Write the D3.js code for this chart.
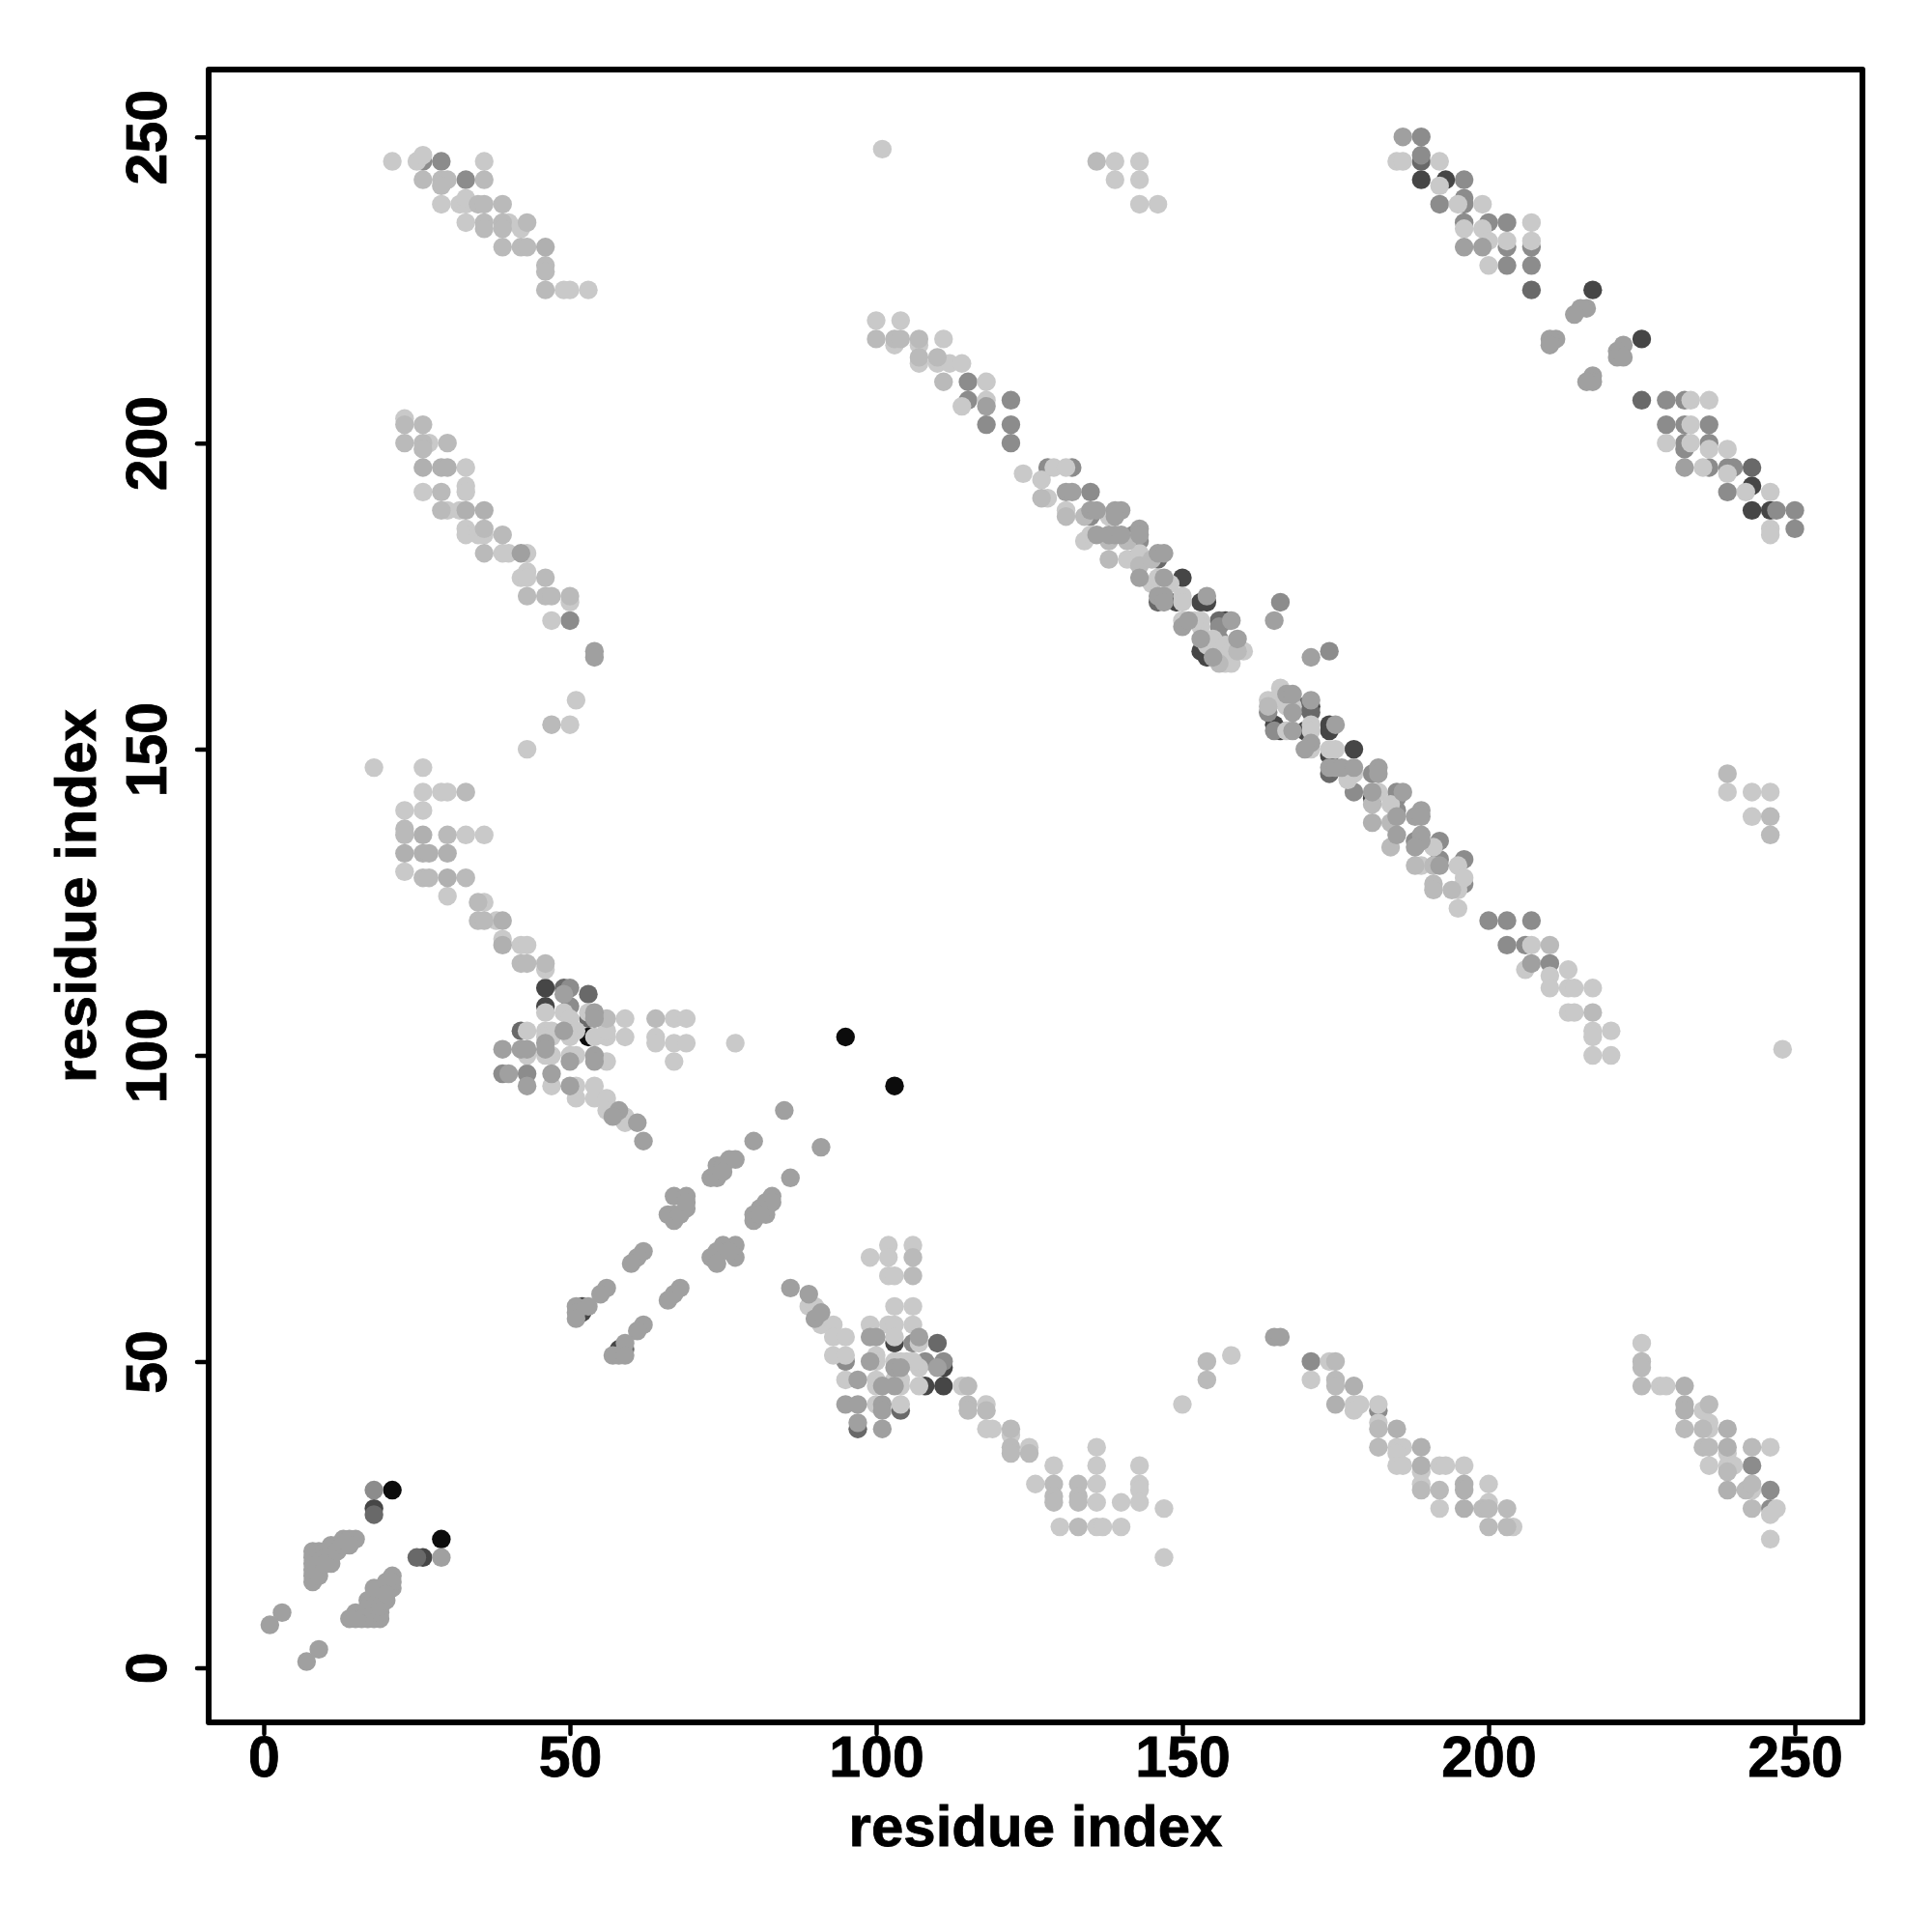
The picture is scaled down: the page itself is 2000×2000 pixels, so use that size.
<!DOCTYPE html>
<html><head><meta charset="utf-8">
<style>html,body{margin:0;padding:0;background:#fff}svg{display:block}</style>
<script src="https://cdn.jsdelivr.net/npm/d3@7"></script></head><body><div id="c"></div>
<script>
// contact strength levels (higher = darker)
const L=54,B=69,A=79,M=95,D=115,E=150,K=185,X=243;
const xTicks=[0,50,100,150,200,250];
const yTicks=[0,50,100,150,200,250];
const axisTitle="residue index";
const layerOrder=[X,K,E,D,L,B,A,M];

const bandTopLeft=[[21,246,L],[25,246,L],[26,246,D],[26,247,L],[29,246,D],[36,246,L],[26,243,B],[29,243,B],[30,243,B],[33,243,D],[36,243,B],[29,242,B],[29,239,L],[32,239,L],[33,239,L],[33,240,L],[35,239,B],[36,239,B],[39,239,B],[33,236,L],[36,236,B],[39,236,B],[40,236,L],[43,236,B],[36,235,B],[39,235,B],[42,235,L],[39,232,B],[42,232,B],[43,232,B],[46,232,A],[46,229,B],[46,228,B],[46,225,B],[49,225,L],[50,225,L],[53,225,L]];
const bandMidLeft=[[23,204,L],[23,203,B],[26,203,B],[23,200,B],[26,200,B],[27,200,L],[30,200,B],[26,199,B],[26,196,A],[29,196,A],[30,196,A],[33,196,L],[33,193,L],[26,192,L],[29,192,B],[33,192,L],[29,189,B],[30,189,L],[32,189,L],[33,189,A],[36,189,A],[33,186,L],[36,186,B],[33,185,L],[35,185,L],[36,185,L],[39,185,B],[36,182,B],[39,182,L],[40,182,L],[42,182,M],[43,182,L],[43,179,L],[42,178,L],[43,178,L],[46,178,B],[43,175,B],[46,175,B],[47,175,B],[50,175,B],[50,174,L],[47,171,L],[50,171,D],[54,166,M],[54,165,M],[51,158,L],[47,154,B],[50,154,L],[43,150,L]];
const bandLowLeft=[[18,147,L],[26,147,L],[26,143,L],[29,143,L],[30,143,L],[33,143,B],[23,140,L],[26,140,L],[23,137,B],[23,136,B],[26,136,A],[30,136,B],[33,136,L],[36,136,L],[23,133,A],[26,133,A],[27,133,A],[30,133,A],[23,130,L],[26,129,B],[27,129,B],[30,129,A],[33,129,B],[30,126,L],[35,125,B],[36,125,L],[35,122,B],[36,122,B],[38,122,L],[39,122,A],[39,119,L],[39,118,A],[42,118,L],[43,118,L],[42,115,B],[43,115,B],[46,115,B],[46,114,L]];
const clusterFifty=[[46,111,K],[49,111,E],[50,111,D],[49,110,M],[53,110,E],[46,108,K],[46,107,L],[49,107,L],[50,108,D],[50,106,L],[53,106,E],[53,107,L],[54,107,M],[54,106,M],[56,106,B],[59,106,L],[64,106,B],[67,106,L],[69,106,L],[42,104,E],[43,104,L],[46,104,L],[47,104,L],[49,104,M],[50,104,L],[51,104,L],[53,103,X],[54,103,L],[56,103,L],[56,104,L],[59,103,L],[64,103,L],[64,102,L],[67,102,L],[69,102,L],[77,102,L],[46,103,L],[46,102,M],[47,103,L],[50,103,L],[39,101,M],[42,101,M],[43,101,M],[43,100,L],[46,101,M],[46,100,L],[47,100,L],[50,100,L],[51,100,L],[50,99,M],[54,100,M],[54,99,M],[56,99,L],[67,99,L],[39,97,D],[40,97,M],[43,97,D],[47,97,M],[43,95,M],[47,95,L],[50,95,M],[51,95,L],[54,95,L],[51,93,L],[54,93,L],[56,93,L],[56,91,L],[58,91,M],[57,90,M],[59,90,L],[59,89,L],[61,89,M],[62,86,M]];
const diagonalCross=[[95,103,X],[103,95,X],[85,91,M],[80,86,M],[91,85,M],[86,80,M],[73,80,M],[74,80,M],[74,82,M],[75,82,M],[76,83,M],[77,83,M],[75,81,M],[67,77,M],[69,77,M],[69,75,M],[66,74,M],[67,74,M],[67,73,M],[68,74,M],[69,76,M],[83,77,M],[82,76,M],[83,76,M],[81,75,M],[82,74,M],[80,74,M],[80,73,M],[81,74,M],[77,69,M],[75,69,M],[74,68,M],[73,67,M],[74,66,M],[77,67,M],[76,68,M],[62,68,M],[61,67,M],[60,66,M],[68,62,M],[67,61,M],[66,60,M],[56,62,M],[55,61,M],[51,59,M],[51,58,M],[51,57,M],[52,59,K],[52,58,K],[53,59,M],[62,56,M],[61,55,M],[59,53,M],[59,52,E],[58,52,K],[57,51,M],[58,51,M],[59,51,M]];
const clusterHundred=[[99,67,L],[102,69,L],[102,67,L],[106,69,L],[106,67,B],[102,64,L],[103,64,L],[106,64,B],[103,59,L],[106,59,L],[99,56,L],[102,56,L],[103,56,L],[106,56,L],[99,54,M],[100,54,M],[103,54,L],[103,53,K],[106,53,D],[107,54,M],[107,53,L],[110,53,E],[100,51,L],[99,50,M],[100,50,L],[103,50,L],[104,50,L],[105,50,L],[107,49,L],[106,50,L],[108,50,D],[110,49,M],[111,50,D],[111,49,K],[103,49,M],[104,49,M],[93,51,L],[95,51,L],[95,50,D],[95,47,L],[97,47,M],[100,47,L],[100,46,L],[101,46,M],[103,46,M],[104,47,L],[104,46,L],[103,47,L],[107,46,L],[108,46,K],[111,46,K],[114,46,L],[115,46,B],[95,43,M],[97,43,M],[100,43,L],[101,43,M],[101,42,M],[104,43,L],[104,42,E],[97,40,M],[97,39,E],[101,39,M],[86,62,M],[89,61,M],[89,59,L],[90,59,L],[90,57,M],[91,58,M],[91,56,L],[93,56,L],[93,54,L],[95,54,L]];
const bandLowMid=[[115,43,B],[115,42,B],[118,43,L],[118,42,B],[118,39,L],[119,39,L],[122,39,B],[122,38,L],[122,36,B],[122,35,B],[125,36,L],[125,35,B],[129,33,L],[126,30,L],[129,30,B],[133,30,B],[129,28,B],[133,28,B],[129,27,B],[133,27,B],[143,33,L],[136,36,L],[136,33,L],[136,30,L],[143,30,L],[143,29,L],[136,27,L],[140,27,L],[143,27,L],[147,26,L],[130,23,L],[133,23,B],[136,23,L],[137,23,L],[140,23,L],[147,18,L],[150,43,L],[154,50,B],[154,47,B],[158,51,L],[165,54,M],[166,54,M]];
const bandLowRight=[[171,50,D],[171,47,L],[174,50,L],[175,50,B],[175,47,B],[175,46,B],[175,43,A],[178,46,A],[178,43,L],[179,43,L],[178,42,L],[182,43,L],[182,42,D],[182,40,L],[182,39,B],[185,39,A],[182,36,B],[185,36,L],[186,36,L],[189,36,A],[185,35,L],[185,33,L],[186,33,L],[189,33,A],[189,32,L],[192,33,L],[193,33,L],[196,33,L],[189,30,L],[189,29,B],[192,29,B],[196,30,A],[196,29,A],[200,30,L],[192,26,L],[196,26,A],[200,27,L],[199,26,B],[200,26,B],[203,26,B],[200,23,B],[203,23,B],[204,23,L]];
const bandLowFar=[[225,53,L],[225,50,B],[225,49,B],[225,46,B],[228,46,L],[229,46,L],[232,46,A],[232,43,A],[232,42,A],[236,43,B],[235,42,L],[232,39,B],[235,39,B],[236,40,L],[236,39,L],[239,39,A],[235,36,B],[236,36,B],[239,36,A],[243,36,B],[246,36,L],[239,35,L],[236,33,L],[239,33,L],[239,32,B],[240,33,L],[243,33,D],[239,29,A],[242,29,B],[243,30,B],[243,29,L],[246,29,D],[243,26,B],[246,26,D],[247,26,L],[246,25,L],[246,21,L]];
const clusterOrigin=[[18,29,D],[21,29,X],[18,26,K],[18,25,E],[29,21,X],[29,18,M],[25,18,E],[26,18,K],[3,9,M],[1,7,M],[9,3,M],[7,1,M],[8,19,M],[8,18,M],[8,17,M],[8,16,M],[8,15,M],[8,14,M],[9,19,M],[9,18,M],[9,17,M],[9,15,M],[10,19,M],[10,18,M],[10,17,M],[11,20,M],[11,19,M],[11,17,M],[12,20,M],[12,19,M],[13,21,M],[13,20,M],[14,21,M],[15,21,M],[14,20,M],[14,8,M],[15,9,M],[15,8,M],[16,8,M],[17,8,M],[18,8,M],[19,8,M],[17,11,M],[17,10,M],[18,10,M],[18,9,M],[19,9,M],[19,10,M],[19,12,M],[20,11,M],[20,13,M],[21,15,M],[21,13,M],[21,14,M],[18,13,M],[20,14,M],[20,12,M]];
const topMiddle=[[136,246,B],[139,246,L],[143,246,L],[139,243,L],[143,243,L],[143,239,L],[146,239,L],[101,248,L]];
const bandTopRight=[[186,250,M],[189,250,D],[185,246,L],[186,246,L],[189,247,D],[189,246,E],[192,246,L],[189,243,K],[192,242,L],[193,243,K],[196,243,D],[192,239,D],[195,239,L],[196,240,D],[196,239,D],[199,239,L],[196,236,D],[196,235,L],[199,235,L],[200,236,D],[203,236,D],[207,236,L],[200,233,L],[203,233,L],[207,233,L],[203,232,D],[207,232,D],[196,232,M],[199,232,M],[200,229,L],[203,229,D],[207,229,D],[207,225,E],[217,225,K],[216,222,M],[215,222,M],[214,221,M],[211,217,M],[210,217,M],[210,216,M],[222,216,M],[221,215,M],[221,214,M],[222,214,M],[225,217,K],[217,211,M],[217,210,M],[216,210,M],[225,207,E],[229,207,D],[232,207,D],[233,207,L],[236,207,L],[229,203,D],[232,203,D],[233,203,L],[236,203,D],[229,200,L],[232,200,D],[233,200,L],[236,200,D],[239,199,L],[232,199,D],[236,199,L],[232,196,M],[235,196,L],[236,196,D],[239,196,D],[240,196,D],[243,196,E],[239,195,L],[239,192,D],[242,192,L],[243,193,K],[246,192,L],[243,189,K],[246,189,K],[247,189,D],[250,189,D],[246,186,L],[246,185,L],[250,186,D]];
const farRight=[[239,146,B],[239,143,L],[243,143,L],[246,143,L],[243,139,L],[246,139,B],[246,136,B],[248,101,L]];
const mainUpper=[[100,220,L],[100,217,B],[104,220,L],[103,217,B],[104,217,B],[107,217,B],[103,216,L],[107,216,L],[107,214,B],[107,213,L],[110,214,B],[111,217,L],[110,213,L],[112,213,L],[111,210,B],[114,213,L],[115,210,D],[115,207,D],[114,206,L],[118,210,L],[118,207,L],[118,206,M],[118,203,D],[122,207,D],[122,203,D],[122,200,D],[124,195,L],[127,194,L],[127,191,B],[128,191,L],[128,196,D],[129,196,L],[131,196,L],[132,196,D],[131,192,M],[132,192,M],[135,192,D],[131,189,L],[131,188,B],[134,188,B],[135,189,M],[135,188,D],[136,189,M],[139,189,M],[140,189,M],[138,188,L],[139,188,M],[134,184,L],[135,185,L],[136,185,M],[138,185,M],[138,184,B],[139,185,M],[140,185,M],[142,185,D],[141,184,B],[143,186,M],[143,185,M],[143,184,D],[138,181,B],[141,181,L],[142,181,K],[143,182,L],[143,180,B],[145,181,B],[146,182,M],[147,182,M],[146,181,E],[143,178,M],[145,177,L],[146,178,L],[147,178,M],[148,177,L],[150,178,K],[146,175,M],[146,174,E],[147,175,M],[147,174,M],[149,174,K],[150,175,L],[150,174,L],[153,174,K],[154,175,M],[154,174,K],[150,171,L],[150,170,M],[151,171,M],[153,171,L],[153,170,L],[152,171,L],[156,171,E],[157,171,K],[158,171,M],[156,170,D],[153,168,M],[153,166,K],[154,167,L],[154,165,K],[155,168,L],[155,165,M],[156,168,D],[156,166,L],[156,164,B],[157,167,L],[157,164,L],[158,164,L],[159,168,M],[159,166,B],[160,166,L],[158,166,L],[165,171,M],[166,174,D],[171,165,M],[174,166,D]];
const mainLower=[[164,158,L],[164,157,B],[164,156,D],[165,158,L],[165,154,K],[166,160,L],[167,159,M],[168,159,M],[167,157,L],[168,157,L],[168,156,M],[166,153,K],[165,153,D],[168,153,M],[167,153,L],[170,157,E],[171,158,M],[171,157,K],[171,156,E],[170,153,K],[171,154,L],[171,153,L],[171,151,M],[170,150,M],[171,150,L],[174,154,K],[174,153,K],[175,154,M],[174,150,L],[174,149,K],[175,150,L],[178,150,K],[174,147,M],[174,146,E],[175,147,M],[176,147,M],[178,147,M],[178,146,L],[177,145,L],[182,147,M],[181,146,D],[182,146,M],[178,143,D],[181,143,M],[182,143,L],[181,142,K],[181,141,B],[181,138,A],[184,141,L],[185,143,D],[186,143,M],[185,142,D],[185,140,D],[185,139,M],[184,138,B],[189,140,M],[188,139,M],[189,139,M],[185,136,M],[189,136,M],[188,135,D],[184,134,B],[189,135,M],[188,134,M],[192,135,D],[191,134,L],[188,131,B],[189,131,L],[192,132,D],[191,131,B],[192,131,M],[191,128,B],[191,127,B],[194,127,B],[196,132,D],[195,131,L],[196,129,L],[196,128,D],[195,127,L],[195,124,L],[200,122,D],[203,122,D],[207,122,D],[203,118,D],[206,118,D],[207,118,L],[210,118,B],[207,115,M],[210,115,D],[206,114,L],[213,114,L],[210,113,L],[213,111,L],[214,111,L],[217,111,L],[210,111,L],[213,107,L],[214,107,L],[217,107,B],[217,104,L],[220,104,L],[217,103,L],[217,100,L],[220,100,L]];

const W=2000,H=2000;
const x=d3.scaleLinear().domain([0,250]).range([273,1858]);
const y=d3.scaleLinear().domain([0,250]).range([1726.4,141.7]);
const shade=d3.scaleLinear().domain([0,255]).range(["#ffffff","#000000"]);
const frame={l:216,t:72,r:1928,b:1783};
const font='"Liberation Sans",Arial,Helvetica,sans-serif';

const contacts=[].concat(bandTopLeft,bandMidLeft,bandLowLeft,clusterFifty,diagonalCross,clusterHundred,bandLowMid,bandLowRight,bandLowFar,clusterOrigin,topMiddle,bandTopRight,farRight,mainUpper,mainLower)
  .slice().sort((a,b)=>layerOrder.indexOf(a[2])-layerOrder.indexOf(b[2]));

const svg=d3.select("#c").append("svg").attr("width",W).attr("height",H).attr("viewBox",`0 0 ${W} ${H}`);
svg.append("rect").attr("width",W).attr("height",H).attr("fill","#fff");

svg.append("g").selectAll("circle").data(contacts).join("circle")
  .attr("cx",d=>x(d[0])).attr("cy",d=>y(d[1])).attr("r",9.7).attr("fill",d=>shade(d[2]));

svg.append("rect").attr("x",frame.l).attr("y",frame.t).attr("width",frame.r-frame.l).attr("height",frame.b-frame.t)
  .attr("fill","none").attr("stroke","#000").attr("stroke-width",6).attr("stroke-linejoin","round");

const gx=svg.append("g").attr("transform",`translate(0,${frame.b})`)
  .call(d3.axisBottom(x).tickValues(xTicks).tickSize(12).tickSizeOuter(0));
const gy=svg.append("g").attr("transform",`translate(${frame.l},0)`)
  .call(d3.axisLeft(y).tickValues(yTicks).tickSize(12).tickSizeOuter(0));
[gx,gy].forEach(g=>{
  g.select(".domain").remove();
  g.selectAll("line").attr("stroke","#000").attr("stroke-width",4.5).attr("stroke-linecap","round");
  g.selectAll("text").attr("fill","#000").attr("stroke","#000").attr("stroke-width",0.8)
    .style("font-family",font).style("font-weight","700").style("font-size","59px");
});
gx.selectAll("text").attr("y",null).attr("dy",null).attr("text-anchor","middle").attr("y",56);
gy.selectAll("text").attr("x",null).attr("dy",null)
  .attr("text-anchor","middle").attr("transform","translate(-44,0) rotate(-90)").attr("x",0).attr("y",0);

svg.append("text").attr("x",(frame.l+frame.r)/2).attr("y",1911).attr("text-anchor","middle")
  .attr("stroke","#000").attr("stroke-width",0.8)
  .style("font-family",font).style("font-weight","700").style("font-size","60px").text(axisTitle);
svg.append("text").attr("transform",`translate(99,${(frame.t+frame.b)/2}) rotate(-90)`).attr("text-anchor","middle")
  .attr("stroke","#000").attr("stroke-width",0.8)
  .style("font-family",font).style("font-weight","700").style("font-size","60px").text(axisTitle);
</script></body></html>
